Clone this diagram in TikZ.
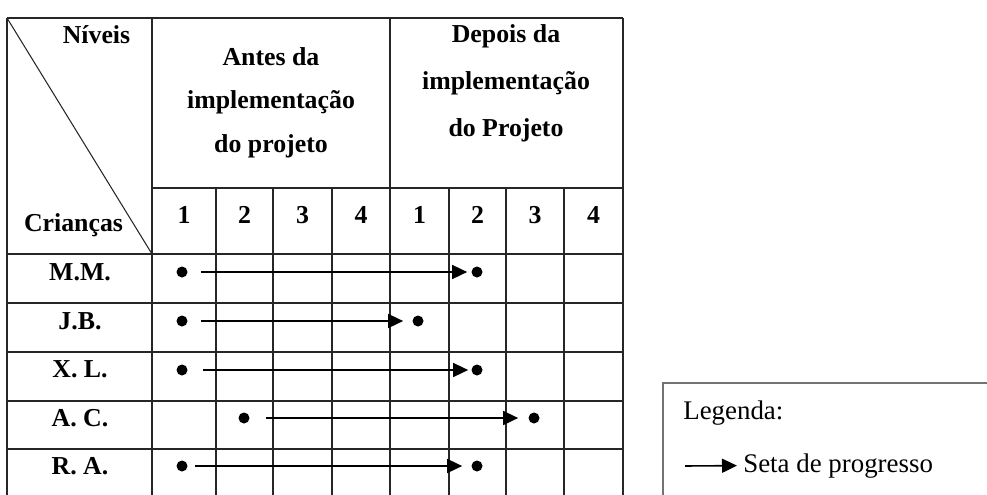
\documentclass[tikz,border=0pt]{standalone}
\usepackage{fontspec}
\setmainfont{Liberation Serif}
\usetikzlibrary{arrows.meta}

\begin{document}
\begin{tikzpicture}[x=0.02cm, y=-0.02cm, >={Triangle[length=0.3cm,width=0.28cm]},
    grade/.style={draw=black!85, line width=0.95pt},
    ponto/.style={circle, fill=black, inner sep=0pt, minimum size=0.22cm},
    rotulo/.style={anchor=base, inner sep=0pt, font=\bfseries\fontsize{14.7}{17}\selectfont},
    cabec/.style={align=center, inner sep=0pt, font=\bfseries\fontsize{14.7}{24.7}\selectfont},
    legtexto/.style={anchor=base west, inner sep=0pt, font=\fontsize{15.3}{18}\selectfont},
    seta/.style={->, line width=0.9pt}]
      \useasboundingbox (0,0) rectangle (987,494);
      \clip (0,0) rectangle (987,494);

      % linhas da tabela
      \draw [grade] (7,18) -- (623,18);
      \draw [grade] (152,188) -- (623,188);
      \draw [grade] (7,254) -- (623,254);
      \draw [grade] (7,303) -- (623,303);
      \draw [grade] (7,352) -- (623,352);
      \draw [grade] (7,401) -- (623,401);
      \draw [grade] (7,449) -- (623,449);

      \draw [grade] (7,18) -- (7,500);
      \draw [grade] (152,18) -- (152,500);
      \draw [grade] (216,188) -- (216,500);
      \draw [grade] (273,188) -- (273,500);
      \draw [grade] (332,188) -- (332,500);
      \draw [grade] (390,18) -- (390,500);
      \draw [grade] (449,188) -- (449,500);
      \draw [grade] (506,188) -- (506,500);
      \draw [grade] (564,188) -- (564,500);
      \draw [grade] (623,18) -- (623,500);

      \draw [grade, line width=0.6pt] (7,18) -- (152,254);

      % cabecalho
      \node at (96.5,43) [rotulo, name=niveis] {Níveis};
      \node at (73.5,231) [rotulo, name=criancas] {Crianças};

      \node at (271,102.5) [cabec, name=antes]
      {Antes da\\implementação\\do projeto};

      \node at (506,83.5) [cabec, font=\bfseries\fontsize{14.7}{26.9}\selectfont, name=depois]
      {Depois da\\implementação\\do Projeto};

      \node at (184,223) [rotulo, name=a1] {1};
      \node at (244.5,223) [rotulo, name=a2] {2};
      \node at (302.5,223) [rotulo, name=a3] {3};
      \node at (361,223) [rotulo, name=a4] {4};
      \node at (419.5,223) [rotulo, name=d1] {1};
      \node at (477.5,223) [rotulo, name=d2] {2};
      \node at (535,223) [rotulo, name=d3] {3};
      \node at (593.5,223) [rotulo, name=d4] {4};

      % criancas
      \node at (80,280) [rotulo, name=mm] {M.M.};
      \node at (80,329) [rotulo, name=jb] {J.B.};
      \node at (80,377.5) [rotulo, name=xl] {X. L.};
      \node at (80,426.5) [rotulo, name=ac] {A. C.};
      \node at (80,474) [rotulo, name=ra] {R. A.};

      % progresso
      \node at (182,272) [ponto, name=mm1] {};
      \node at (477,272) [ponto, name=mm2] {};
      \draw [seta, shorten <=0.26cm, shorten >=0.08cm] (mm1) -- (mm2);

      \node at (182,321) [ponto, name=jb1] {};
      \node at (418,321) [ponto, name=jb2] {};
      \draw [seta, shorten <=0.26cm, shorten >=0.18cm] (jb1) -- (jb2);

      \node at (182,370) [ponto, name=xl1] {};
      \node at (477,370) [ponto, name=xl2] {};
      \draw [seta, shorten <=0.3cm, shorten >=0.06cm] (xl1) -- (xl2);

      \node at (244,418) [ponto, name=ac1] {};
      \node at (534,418) [ponto, name=ac2] {};
      \draw [seta, shorten <=0.32cm, shorten >=0.2cm] (ac1) -- (ac2);

      \node at (182,466) [ponto, name=ra1] {};
      \node at (477,466) [ponto, name=ra2] {};
      \draw [seta, shorten <=0.14cm, shorten >=0.18cm] (ra1) -- (ra2);

      % legenda
      \draw [draw=black!55, line width=0.9pt] (663,383) rectangle (1000,510);
      \node at (683,419) [legtexto, name=legenda] {Legenda:};
      \node at (743,472) [legtexto, name=setaleg] {Seta de progresso};
      \coordinate (inicioleg) at (685,466);
      \draw [seta, shorten >=0.12cm] (inicioleg) -- (setaleg.west);
    \end{tikzpicture}
\end{document}
